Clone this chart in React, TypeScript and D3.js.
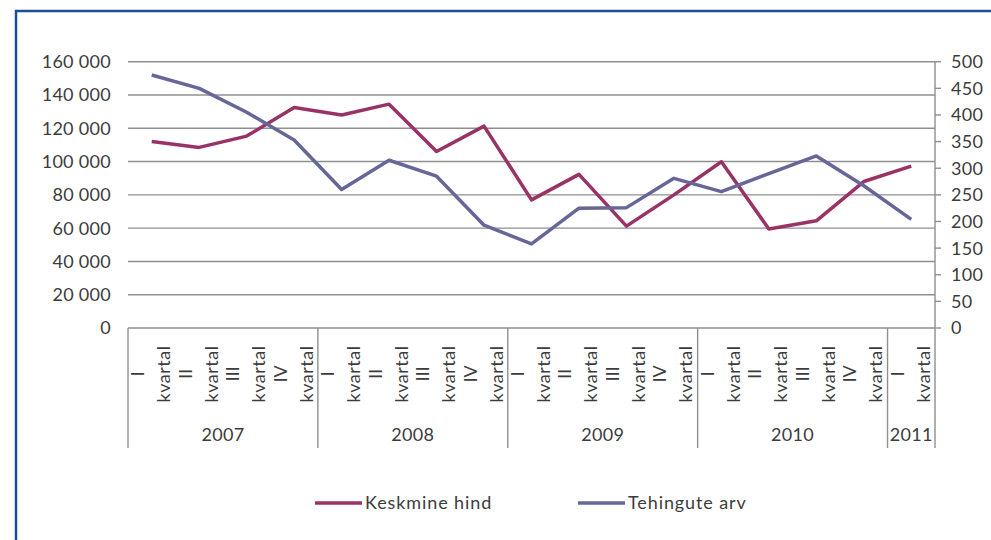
import React from "react";
import * as d3 from "d3";

const years = ["2007", "2008", "2009", "2010", "2011"];
const quartersPerYear = [4, 4, 4, 4, 1];
const quarterNumerals = ["I", "II", "III", "IV"];
const quarterWord = "kvartal";

// Keskmine hind (left axis)
const averagePrice = [112000, 108500, 115300, 132500, 128000, 134500, 106000, 121300, 77000, 92300, 61200, 80000, 99900, 59500, 64400, 88000, 97300];
// Tehingute arv (right axis)
const dealCount = [475, 450, 405, 353, 260, 315, 285, 193, 158, 225, 226, 281, 256, 290, 323, 267, 204];

const leftTicks = [0, 20000, 40000, 60000, 80000, 100000, 120000, 140000, 160000];
const rightTicks = [0, 50, 100, 150, 200, 250, 300, 350, 400, 450, 500];

const seriesNames = ["Keskmine hind", "Tehingute arv"];
const seriesColors = ["#993366", "#666699"];

const FONT = "Lato, 'Open Sans', sans-serif";

export default function App() {
  const W = 991, H = 540;
  const left = 128, right = 935, top = 61.7, bottom = 328;

  const categories: { year: string; q: number }[] = [];
  years.forEach((y, i) => {
    for (let q = 0; q < quartersPerYear[i]; q++) categories.push({ year: y, q });
  });
  const ids = categories.map((_, i) => String(i));

  const x = d3.scaleBand<string>().domain(ids).range([left, right]).paddingInner(0).paddingOuter(0);
  const bw = x.bandwidth();
  const cx = (i: number) => (x(String(i)) as number) + bw / 2;
  const yL = d3.scaleLinear().domain([0, 160000]).range([bottom, top]);
  const yR = d3.scaleLinear().domain([0, 500]).range([bottom, top]);

  const locale = d3.formatLocale({ thousands: " ", grouping: [3], decimal: ",", currency: ["", ""] });
  const fmt = locale.format(",");

  const lineL = d3.line<number>().x((_, i) => cx(i)).y((d) => yL(d));
  const lineR = d3.line<number>().x((_, i) => cx(i)).y((d) => yR(d));

  const boundaries: number[] = [left];
  let acc = 0;
  quartersPerYear.forEach((n) => {
    acc += n;
    boundaries.push(left + acc * bw);
  });

  const textColor = "#3c3c3c";
  const gridColor = "#8f8f8f";

  return (
    <svg width={W} height={H} style={{ position: "absolute", left: 0, top: 0, background: "#fff" }} fontFamily={FONT}>
      <rect x={16} y={11} width={1000} height={600} fill="#fff" stroke="#1f4f93" strokeWidth={2.5} />

      {leftTicks.map((t) => (
        <line key={"g" + t} x1={left} x2={right} y1={yL(t)} y2={yL(t)} stroke={gridColor} strokeWidth={1.4} />
      ))}

      {leftTicks.map((t) => (
        <text key={"l" + t} x={111} y={yL(t)} dy="0.36em" textAnchor="end" fontSize={18} fill={textColor} letterSpacing={0.3}>
          {fmt(t)}
        </text>
      ))}

      <line x1={right} x2={right} y1={top} y2={bottom} stroke={gridColor} strokeWidth={1.4} />
      {rightTicks.map((t) => (
        <g key={"r" + t}>
          <line x1={right} x2={right + 6} y1={yR(t)} y2={yR(t)} stroke={gridColor} strokeWidth={1.4} />
          <text x={951} y={yR(t)} dy="0.36em" textAnchor="start" fontSize={18} fill={textColor} letterSpacing={0.3}>
            {t}
          </text>
        </g>
      ))}

      {boundaries.map((b, i) => (
        <line key={"b" + i} x1={b} x2={b} y1={bottom} y2={448} stroke={gridColor} strokeWidth={1.4} />
      ))}

      {categories.map((c, i) => (
        <g key={"c" + i}>
          <text
            transform={`translate(${cx(i) - 14},374) rotate(-90)`}
            textAnchor="middle"
            dy="0.36em"
            fontSize={18}
            fill={textColor}
          >
            {quarterNumerals[c.q]}
          </text>
          <text
            transform={`translate(${cx(i) + 12},374) rotate(-90)`}
            textAnchor="middle"
            dy="0.36em"
            fontSize={18}
            fill={textColor}
            letterSpacing={0.5}
          >
            {quarterWord}
          </text>
        </g>
      ))}

      {years.map((y, i) => (
        <text key={"y" + y} x={(boundaries[i] + boundaries[i + 1]) / 2} y={441} textAnchor="middle" fontSize={18} fill={textColor} letterSpacing={0.3}>
          {y}
        </text>
      ))}

      <path d={lineL(averagePrice) || ""} fill="none" stroke={seriesColors[0]} strokeWidth={3.5} strokeLinejoin="round" />
      <path d={lineR(dealCount) || ""} fill="none" stroke={seriesColors[1]} strokeWidth={3.5} strokeLinejoin="round" />

      {seriesNames.map((n, i) => {
        const lx = i === 0 ? 315 : 578;
        return (
          <g key={"lg" + i}>
            <line x1={lx} x2={lx + 47} y1={503} y2={503} stroke={seriesColors[i]} strokeWidth={3.5} />
            <text x={lx + 50} y={503} dy="0.36em" fontSize={18} fill={textColor} letterSpacing={0.9}>
              {n}
            </text>
          </g>
        );
      })}
    </svg>
  );
}
